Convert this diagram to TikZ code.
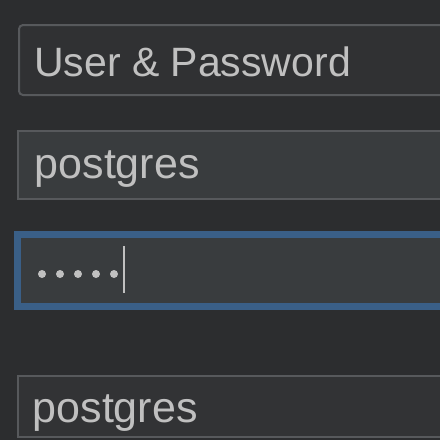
\documentclass[tikz,border=0pt]{standalone}
\usepackage{fontspec}
\setmainfont{Liberation Sans}
\definecolor{bgc}{HTML}{2C2D2F}
\definecolor{fieldedge}{HTML}{57595C}
\definecolor{fieldA}{HTML}{303133}
\definecolor{fieldB}{HTML}{393C3E}
\definecolor{fieldD}{HTML}{323335}
\definecolor{focus}{HTML}{3A5F87}
\definecolor{txt}{HTML}{C0C0C0}
\tikzset{
  fieldbox/.style={draw=fieldedge, line width=2pt},
  fieldtext/.style={anchor=base west, inner sep=0pt, text=txt, font=\fontsize{41}{48}\selectfont},
  valuetext/.style={fieldtext, font=\fontsize{43}{50}\selectfont},
  dot/.style={circle, fill=txt, inner sep=0pt, minimum size=8pt},
}
\begin{document}
\begin{tikzpicture}[x=1pt,y=-1pt]
\useasboundingbox (0,0) rectangle (440,440);
\clip (0,0) rectangle (440,440);
\fill[bgc] (0,0) rectangle (440,440);
% field 1
\draw[fieldbox, fill=fieldA, rounded corners=4pt] (19,25) rectangle (470,95);
\node[fieldtext] (t1) at (34,76) {User \& Password};
% field 2
\draw[fieldbox, fill=fieldB] (18,131) rectangle (470,199);
\node[valuetext] (t2) at (34.5,178) {postgres};
% field 3 (focused)
\fill[fieldB] (17,234) rectangle (470,306);
\draw[draw=focus, line width=7pt] (17.5,234) rectangle (470,306);
\foreach \i/\x in {1/42,2/60,3/78,4/96,5/114}
  \node[dot] (d\i) at (\x,274) {};
\coordinate (c1) at (124,246);
\coordinate (c2) at (124,293);
\draw[txt, line width=2pt] (c1) -- (c2);
% field 4
\draw[fieldbox, fill=fieldD] (18,376) rectangle (470,437);
\node[valuetext] (t4) at (32.5,422) {postgres};
\end{tikzpicture}
\end{document}
